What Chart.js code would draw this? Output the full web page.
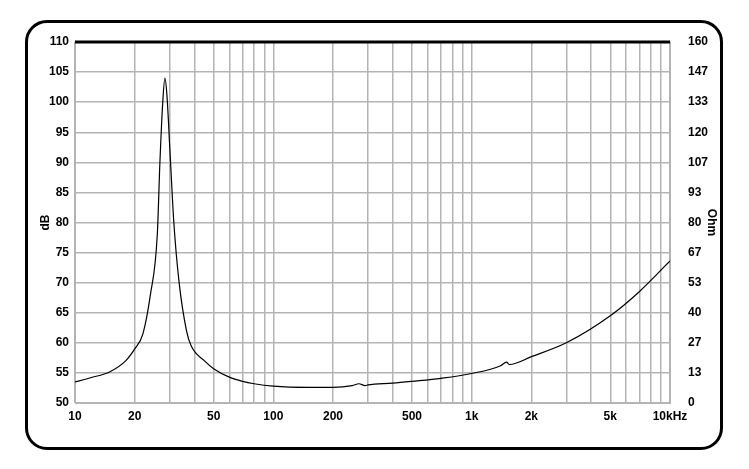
<!DOCTYPE html>
<html><head><meta charset="utf-8">
<script src="https://cdn.jsdelivr.net/npm/chart.js@4"></script>
<style>
html,body{margin:0;padding:0;background:#fff;}
#wrap{position:relative;width:749px;height:469px;}
#frame{position:absolute;left:25px;top:20px;width:692px;height:424px;border:3px solid #000;border-radius:22px;box-sizing:content-box;pointer-events:none;}
canvas{position:absolute;left:0;top:0;}
</style></head>
<body><div id="wrap"><div id="frame"></div><canvas id="c" width="749" height="469"></canvas></div>
<script>
const freqs = [10,12,15,18,20,22,24,26,26.8,27.7,28.4,29.1,30.1,31.5,33.5,36.5,38.5,45,50,60,70,80,100,150,200,250,270,290,300,400,500,700,1000,1400,1500,1550,2000,3000,5000,7000,10000];
const dbValues = [53.5,54.2,55.2,57,59,61.5,68,78,90,100,104,101,92,80,70,62,59.5,57,55.7,54.3,53.6,53.2,52.8,52.6,52.6,52.9,53.2,52.9,53.0,53.3,53.6,54.1,54.9,56.2,56.8,56.4,57.7,60,64.5,68.5,73.6];
const xLabelValues = [10,20,50,100,200,500,1000,2000,5000,10000];
const xLabelTexts = ['10','20','50','100','200','500','1k','2k','5k','10kHz'];
const ohmTicks = [0,13,27,40,53,67,80,93,107,120,133,147,160];

const gridX = [];
for (let d=10; d<=10000; d*=10) for (let m=1;m<10;m++){ const v=d*m; if(v<=10000) gridX.push(v); }

const font = {family:'Liberation Sans, Arial, sans-serif', size:12, weight:'bold'};
const topLine = {id:'topLine', afterDraw(ch){const a=ch.chartArea,c=ch.ctx;c.save();c.strokeStyle='#000';c.lineWidth=3;c.beginPath();c.moveTo(a.left,a.top);c.lineTo(a.right,a.top);c.stroke();c.restore();}};

new Chart(document.getElementById('c'), {
  type:'line',
  data:{datasets:[{data:freqs.map((f,i)=>({x:f,y:dbValues[i]})),borderColor:'#000',borderWidth:1.2,pointRadius:0,tension:0.4,cubicInterpolationMode:'monotone',fill:false}]},
  options:{
    responsive:false,animation:false,
    layout:{padding:{left:38,right:28,top:42,bottom:38}},
    plugins:{legend:{display:false},tooltip:{enabled:false}},
    scales:{
      x:{type:'logarithmic',min:10,max:10000,
        afterBuildTicks(s){s.ticks=gridX.map(v=>({value:v}));},
        afterFit(s){s.height=28;},
        ticks:{autoSkip:false,maxRotation:0,color:'#000',font,padding:6,
          callback(v){const i=xLabelValues.indexOf(v);return i>=0?xLabelTexts[i]:'';}},
        grid:{color:'#b4b4b4',lineWidth:1.5,drawTicks:false},border:{color:'#b4b4b4'}},
      y:{position:'left',min:50,max:110,
        afterBuildTicks(s){const t=[];for(let v=50;v<=110;v+=5)t.push({value:v});s.ticks=t;},
        afterFit(s){s.width=37;},
        ticks:{color:'#000',font,padding:6},
        title:{display:true,text:'dB',color:'#000',font,padding:0},
        grid:{color:'#b4b4b4',lineWidth:1.5,drawTicks:false},border:{color:'#b4b4b4'}},
      y2:{position:'right',min:0,max:160,
        afterBuildTicks(s){s.ticks=ohmTicks.map((t,i)=>({value:i*160/12}));},
        afterFit(s){s.width=51;},
        ticks:{color:'#000',font,padding:10,callback(v){return String(Math.round(v));}},
        title:{display:true,text:'Ohm',color:'#000',font,padding:2},
        grid:{display:false},border:{color:'#b4b4b4'}}
    }
  },
  plugins:[topLine]
});
</script></body></html>
